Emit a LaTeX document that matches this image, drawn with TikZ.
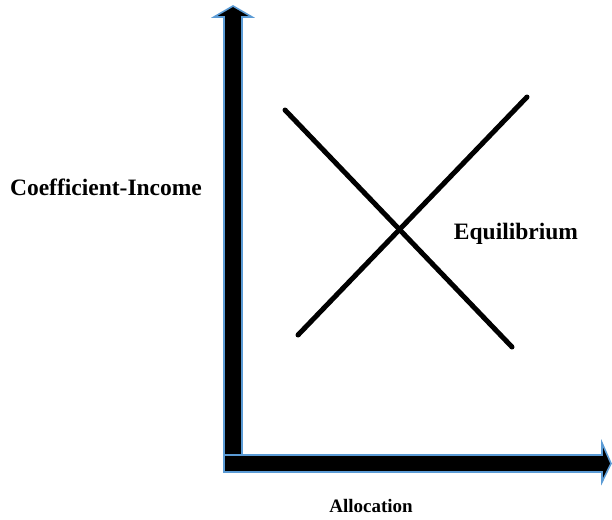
\documentclass[tikz,border=0pt]{standalone}
\usepackage{fontspec}
\setmainfont{Liberation Serif}
\usepackage{xcolor}
\usepackage{tikz}
\usetikzlibrary{positioning}
\definecolor{axisblue}{RGB}{91,155,213}

\begin{document}
\begin{tikzpicture}[x=1pt, y=-1pt,
  axisarrow/.style={draw=axisblue, line width=1.6pt, fill=black, line join=miter},
  cross/.style={line width=5pt, line cap=round},
  lbl/.style={font=\bfseries\fontsize{23.5}{26}\selectfont, inner sep=0pt},
]
\useasboundingbox (0,0) rectangle (612,519);
% axes
\draw[axisarrow] (224,455) -- (224,17) -- (214,17) -- (233,6) -- (252,17)
  -- (242,17) -- (242,455) -- cycle;
\draw[axisarrow] (224,455) -- (602,455) -- (602,443) -- (611,463.5) -- (602,482)
  -- (602,472) -- (224,472) -- cycle;
% crossing lines
\coordinate (d1a) at (285,110);
\coordinate (d1b) at (512,347);
\coordinate (d2a) at (527,97);
\coordinate (d2b) at (298,335);
\draw[cross] (d1a) -- (d1b);
\draw[cross] (d2a) -- (d2b);
% labels
\node[lbl] (yname) at (106,187) {Coefficient-Income};
\node[lbl] (eq) at (516,234) {Equilibrium};
\node[lbl, font=\bfseries\fontsize{19}{21}\selectfont] (xname) at (371,506) {Allocation};
\end{tikzpicture}
\end{document}
